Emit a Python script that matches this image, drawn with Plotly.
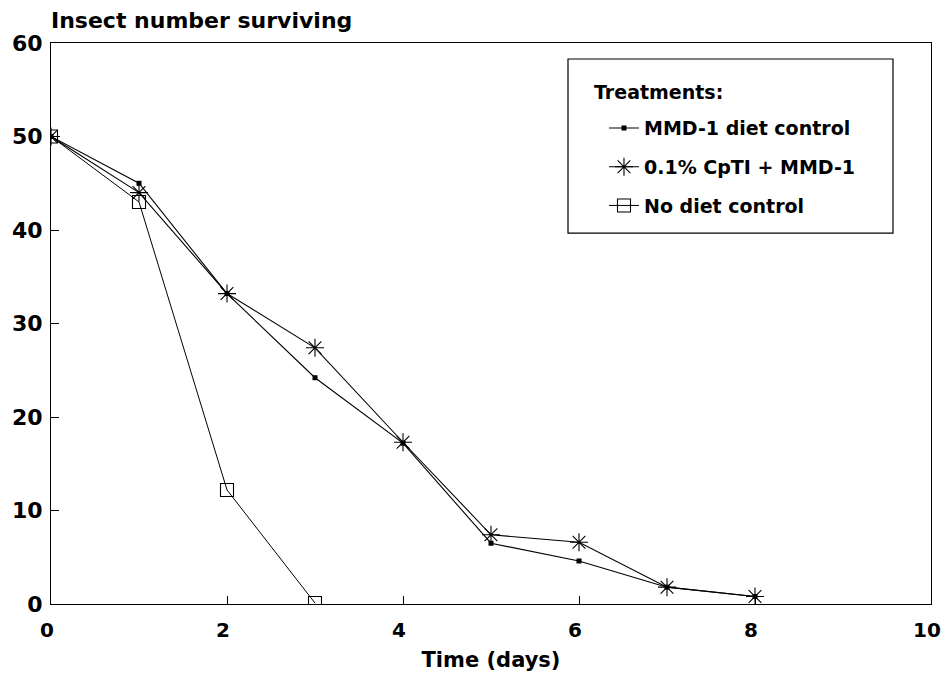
import plotly.graph_objects as go

days = [0, 1, 2, 3, 4, 5, 6, 7, 8]
mmd_control = [50, 45, 33.2, 24.2, 17.2, 6.5, 4.6, 1.8, 0.8]
cpti_mmd = [50, 44, 33.2, 27.4, 17.3, 7.4, 6.6, 1.8, 0.8]
no_diet_days = [0, 1, 2, 3]
no_diet = [50, 43, 12.2, 0.1]

series_names = ["MMD-1 diet control", "0.1% CpTI + MMD-1", "No diet control"]
x_ticks = [0, 2, 4, 6, 8, 10]
y_ticks = [0, 10, 20, 30, 40, 50, 60]

FONT = "DejaVu Sans"
fig = go.Figure()

fig.add_trace(go.Scatter(
    x=days, y=mmd_control, name=series_names[0], mode="lines+markers",
    line=dict(color="black", width=1.1),
    marker=dict(symbol="square", size=5, color="black"),
    legendgroup="a"))
fig.add_trace(go.Scatter(
    x=days, y=cpti_mmd, name=series_names[1], mode="lines+markers",
    line=dict(color="black", width=1.1),
    marker=dict(symbol="asterisk-open", size=15, color="black",
                line=dict(color="black", width=1.1)),
    legendgroup="b"))
fig.add_trace(go.Scatter(
    x=no_diet_days, y=no_diet, name=series_names[2], mode="lines+markers",
    line=dict(color="black", width=1.0),
    marker=dict(symbol="square-open", size=13, color="black",
                line=dict(color="black", width=1.1)),
    legendgroup="c"))

# page has an 8px body margin; plot area on screen: x 51..931, y 43..604
fig.update_layout(
    width=950, height=680,
    margin=dict(l=43, r=27, t=35, b=84),
    paper_bgcolor="white", plot_bgcolor="white",
    font=dict(family=FONT, color="black", size=20, weight="bold"),
    showlegend=True,
    legend=dict(
        x=0.6284, y=0.882, xanchor="left", yanchor="top",
        bgcolor="rgba(0,0,0,0)", borderwidth=0,
        font=dict(family=FONT, size=19, color="black", weight="bold"),
        tracegroupgap=11,
    ),
    shapes=[dict(type="rect", xref="paper", yref="paper",
                 x0=0.5875, x1=0.9568, y0=0.661, y1=0.9715,
                 line=dict(color="black", width=1.2))],
    annotations=[
        dict(text="Insect number surviving", xref="paper", yref="paper",
             x=-0.002, y=1.040, xanchor="left", yanchor="middle",
             showarrow=False, font=dict(family=FONT, size=22, weight="bold")),
        dict(text="Treatments:", xref="paper", yref="paper",
             x=0.6148, y=0.912, xanchor="left", yanchor="middle",
             showarrow=False, font=dict(family=FONT, size=19, weight="bold")),
    ],
)

fig.update_xaxes(
    range=[0, 10], tickvals=x_ticks, ticks="inside", ticklen=8, tickwidth=1,
    tickcolor="black", showline=True, linecolor="black", linewidth=1.2,
    mirror=True, showgrid=False, zeroline=False, automargin=False,
    ticklabelstandoff=8, ticklabelshift=-4,
    tickfont=dict(family=FONT, size=20, weight="bold"),
    title=dict(text="Time (days)", font=dict(family=FONT, size=21, weight="bold"), standoff=11),
)
fig.update_yaxes(
    range=[0, 60], tickvals=y_ticks, ticks="inside", ticklen=8, tickwidth=1,
    tickcolor="black", showline=True, linecolor="black", linewidth=1.2,
    mirror=True, showgrid=False, zeroline=False, automargin=False,
    ticklabelstandoff=3,
    tickfont=dict(family=FONT, size=22, weight="bold"),
)

fig.write_html("out.html")
